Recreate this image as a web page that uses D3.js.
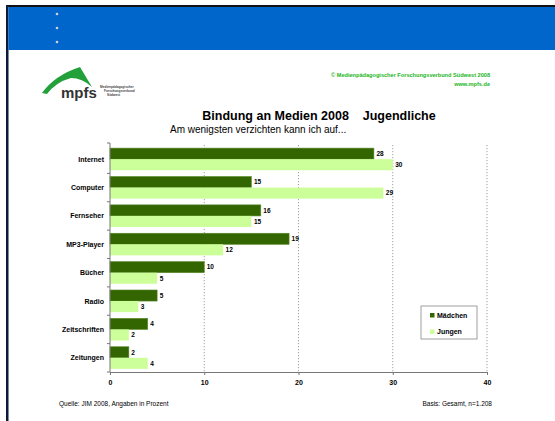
<!DOCTYPE html>
<meta charset="utf-8">
<style>
  html, body { margin: 0; padding: 0; background: #fff; overflow: hidden; }
  svg { display: block; font-family: Arial, "Liberation Sans", sans-serif; }
</style>
<svg width="555" height="421"></svg>
<script src="https://d3js.org/d3.v7.min.js"></script>
<script>

var categories = ["Internet", "Computer", "Fernseher", "MP3-Player", "Bücher", "Radio", "Zeitschriften", "Zeitungen"]
var maedchen = [28, 15, 16, 19, 10, 5, 4, 2]
var jungen = [30, 29, 15, 12, 5, 3, 2, 4]
var seriesNames = ["Mädchen", "Jungen"]
var xTicks = [0, 10, 20, 30, 40]

var colors = { "Mädchen": "#336600", "Jungen": "#CCFF99" }

var svg = d3.select('svg')

// slide frame
svg.append('rect').attr('x', 0).attr('y', 0).attr('width', 555).attr('height', 421).attr('fill', '#fff')
svg.append('rect').attr('x', 7).attr('y', 5).attr('width', 548).attr('height', 2).attr('fill', '#111')
svg.append('rect').attr('x', 6).attr('y', 5).attr('width', 2.5).attr('height', 416).attr('fill', '#0a1a3a')
svg.append('rect').attr('x', 8.5).attr('y', 7).attr('width', 546.5).attr('height', 43).attr('fill', '#0066CC')

;[14, 28, 42].forEach(function (y) {
  svg.append('circle').attr('cx', 57).attr('cy', y).attr('r', 1.3).attr('fill', '#c8d4e4')
})

// logo
var logo = svg.append('g').attr('class', 'logo')
logo.append('path')
  .attr('d', 'M42,93 Q55,75 80,67 L92,87 Q82,78 71,78 Q56,82 47,94 Z')
  .attr('fill', '#22A03A')
logo.append('text').attr('x', 61).attr('y', 98).text('mpfs')
  .attr('font-size', 15).attr('font-weight', 'bold').attr('fill', '#333')
;["Medienpädagogischer", "Forschungsverbund", "Südwest"].forEach(function (t, i) {
  logo.append('text').attr('x', i === 0 ? 100 : 104 + (i === 2 ? 3 : 0)).attr('y', 88 + i * 4).text(t)
    .attr('font-size', 3.2).attr('font-weight', 'bold').attr('fill', '#444')
})

// copyright
svg.append('text').attr('x', 490).attr('y', 77).attr('text-anchor', 'end')
  .attr('font-size', 5.6).attr('font-weight', 'bold').attr('fill', '#1DB41D')
  .text('© Medienpädagogischer Forschungsverbund Südwest 2008')
svg.append('text').attr('x', 490).attr('y', 86).attr('text-anchor', 'end')
  .attr('font-size', 5.6).attr('font-weight', 'bold').attr('fill', '#1DB41D')
  .text('www.mpfs.de')

// titles
svg.append('text').attr('x', 319).attr('y', 120).attr('text-anchor', 'middle')
  .attr('font-size', 12.5).attr('font-weight', 'bold').attr('fill', '#000')
  .attr('xml:space', 'preserve')
  .text('Bindung an Medien 2008    Jugendliche')
svg.append('text').attr('x', 170).attr('y', 133)
  .attr('font-size', 10).attr('fill', '#000')
  .text('Am wenigsten verzichten kann ich auf...')

// chart
var margin = { left: 110, right: 487, top: 145, bottom: 372 }

var x = d3.scaleLinear().domain([0, 40]).range([margin.left, margin.right])
var y = d3.scaleBand().domain(categories).range([margin.top, margin.bottom]).paddingInner(0.22).paddingOuter(0.11)
var ySub = d3.scaleBand().domain(seriesNames).range([0, y.bandwidth()])

// gridlines
svg.append('g').selectAll('line').data(xTicks.slice(1)).join('line')
  .attr('x1', function (d) { return x(d) }).attr('x2', function (d) { return x(d) })
  .attr('y1', margin.top).attr('y2', margin.bottom)
  .attr('stroke', '#888').attr('stroke-width', 0.8).attr('stroke-dasharray', '1.2,1.8')

var data = categories.map(function (c, i) {
  return { cat: c, values: [{ s: "Mädchen", v: maedchen[i] }, { s: "Jungen", v: jungen[i] }] }
})

var groups = svg.append('g').selectAll('g').data(data).join('g')
  .attr('transform', function (d) { return 'translate(0,' + y(d.cat) + ')' })

groups.selectAll('rect').data(function (d) { return d.values }).join('rect')
  .attr('x', x(0))
  .attr('y', function (d) { return ySub(d.s) })
  .attr('width', function (d) { return x(d.v) - x(0) })
  .attr('height', ySub.bandwidth())
  .attr('fill', function (d) { return colors[d.s] })
  .attr('stroke', function (d) { return d.s === "Mädchen" ? '#5a8a2a' : 'none' })
  .attr('stroke-width', 0.6)

groups.selectAll('text').data(function (d) { return d.values }).join('text')
  .attr('x', function (d) { return x(d.v) + 2.5 })
  .attr('y', function (d) { return ySub(d.s) + ySub.bandwidth() / 2 + 2.3 })
  .attr('font-size', 6.5).attr('font-weight', 'bold').attr('fill', '#000')
  .text(function (d) { return d.v })

// y axis
var yAxis = svg.append('g').attr('transform', 'translate(' + margin.left + ',0)')
yAxis.append('line').attr('x1', 0).attr('x2', 0).attr('y1', margin.top - 2).attr('y2', margin.bottom)
  .attr('stroke', '#777').attr('stroke-width', 1)
var bounds = d3.range(categories.length + 1).map(function (i) { return margin.top + i * y.step() - (i === 0 ? 2 : 0) })
yAxis.selectAll('line.tick').data(bounds).join('line').attr('class', 'tick')
  .attr('x1', -3).attr('x2', 0).attr('y1', function (d) { return d }).attr('y2', function (d) { return d })
  .attr('stroke', '#777')
yAxis.selectAll('text').data(categories).join('text')
  .attr('x', -6).attr('y', function (d) { return y(d) + y.bandwidth() / 2 + 2.5 })
  .attr('text-anchor', 'end').attr('font-size', 7).attr('font-weight', 'bold').attr('fill', '#000')
  .text(function (d) { return d })

// x axis
var xAxis = svg.append('g').attr('transform', 'translate(0,' + margin.bottom + ')')
xAxis.call(d3.axisBottom(x).tickValues(xTicks).tickSize(3).tickPadding(5))
xAxis.select('.domain').attr('stroke', '#777')
xAxis.selectAll('.tick line').attr('stroke', '#777')
xAxis.selectAll('.tick text').attr('font-size', 7).attr('font-weight', 'bold').attr('fill', '#000')
  .attr('font-family', 'Arial, "Liberation Sans", sans-serif')

// legend
var legend = svg.append('g').attr('transform', 'translate(421,306)')
legend.append('rect').attr('width', 56).attr('height', 33).attr('fill', '#fff').attr('stroke', '#888').attr('stroke-width', 0.8)
seriesNames.forEach(function (s, i) {
  legend.append('rect').attr('x', 9).attr('y', 7 + i * 16.5).attr('width', 4.5).attr('height', 4.5).attr('fill', colors[s])
  legend.append('text').attr('x', 16).attr('y', 11.5 + i * 16.5).text(s)
    .attr('font-size', 7).attr('font-weight', 'bold').attr('fill', '#000')
})

// footer
svg.append('text').attr('x', 59).attr('y', 406).attr('font-size', 6.5).attr('fill', '#000')
  .text('Quelle: JIM 2008, Angaben in Prozent')
svg.append('text').attr('x', 492).attr('y', 406).attr('text-anchor', 'end').attr('font-size', 6.5).attr('fill', '#000')
  .text('Basis: Gesamt, n=1.208')

</script>
